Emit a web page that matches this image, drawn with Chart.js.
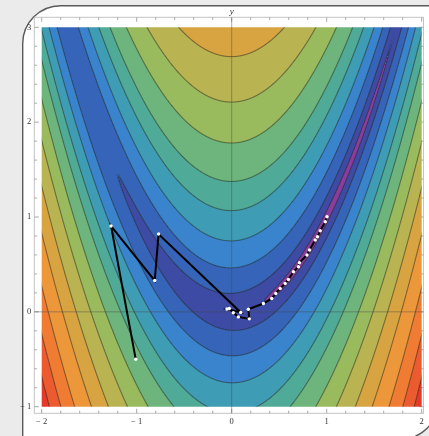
<!DOCTYPE html>
<html>
<head>
<meta charset="utf-8">
<script src="https://cdn.jsdelivr.net/npm/chart.js@4.4.1/dist/chart.umd.min.js"></script>
<style>
  html,body{margin:0;padding:0;background:#ebebeb;}
  canvas{display:block;}
</style>
</head>
<body>
<canvas id="c" width="429" height="436"></canvas>
<script>
// ---- data ----
const xRange = [-2, 2];
const yRange = [-1, 3];
// contour levels of the plotted field
const contourLevels = [0.42, 4.8, 22.5, 57, 115, 190, 318, 490, 725, 1015, 1400, 1800, 2200];
// fill colour of each band, lowest first
const bandColors = ['#8b3d9e','#3d4ba4','#3564b8','#3a84cd','#3e9cb4','#4fab97','#6db57c',
                    '#9aba5e','#b9b352','#d8a441','#ec973a','#f07c33','#ec5a2f','#e43a2a'];
// optimisation path
const pathX = [-1.01, -1.27, -0.81, -0.77, 0.095, -0.05, -0.025, 0.017, 0.07, 0.185, 0.175, 0.334,
               0.422, 0.464, 0.510, 0.563, 0.597, 0.650, 0.703, 0.713, 0.792, 0.819, 0.879, 0.903, 0.932, 0.985, 1.003];
const pathY = [-0.50, 0.905, 0.33, 0.82, -0.006, 0.03, 0.036, -0.01, -0.053, -0.074, 0.028, 0.088,
               0.141, 0.194, 0.247, 0.300, 0.342, 0.422, 0.475, 0.517, 0.599, 0.652, 0.757, 0.792, 0.855, 0.950, 1.003];
const xTickValues = [-2, -1, 0, 1, 2];
const xTickLabels = ['\u2212 2', '\u2212 1', '0', '1', '2'];
const yTickValues = [-1, 0, 1, 2, 3];
const yTickLabels = ['\u2212 1', '0', '1', '2', '3'];
const axisLabel = 'y';

// field shown by the contours (Rosenbrock function)
function field(x, y) { return (1 - x) * (1 - x) + 100 * (y - x * x) * (y - x * x); }

function hexToRgb(h) { return [parseInt(h.slice(1,3),16), parseInt(h.slice(3,5),16), parseInt(h.slice(5,7),16)]; }

const cbLevels = [0].concat(contourLevels.map(Math.cbrt));
function levelCoord(f) {
  const g = Math.cbrt(f);
  const n = cbLevels.length - 1;
  for (let j = 0; j < n; j++) {
    if (g < cbLevels[j + 1]) return j + (g - cbLevels[j]) / (cbLevels[j + 1] - cbLevels[j]);
  }
  return n + (g - cbLevels[n]) / (cbLevels[n] - cbLevels[n - 1]);
}

function frameBox(a) {
  return { l: a.left - 7.4, t: a.top - 10, r: a.right + 1.8, b: a.bottom + 6.6 };
}

const backgroundPlugin = {
  id: 'panel',
  beforeDraw(chart) {
    const ctx = chart.ctx, a = chart.chartArea;
    ctx.save();
    ctx.fillStyle = '#ebebeb';
    ctx.fillRect(0, 0, chart.width, chart.height);
    // rounded panel
    const L = 22.7, T = 5.7, R = 440, B = 440, r1 = 38, r2 = 42;
    ctx.beginPath();
    ctx.moveTo(L + r1, T);
    ctx.lineTo(R, T);
    ctx.lineTo(R, B - r2);
    ctx.arcTo(R, B, R - r2, B, r2);
    ctx.lineTo(L, B);
    ctx.lineTo(L, T + r1);
    ctx.arcTo(L, T, L + r1, T, r1);
    ctx.closePath();
    ctx.fillStyle = '#ffffff';
    ctx.fill();
    ctx.lineWidth = 1.4;
    ctx.strokeStyle = '#5a5a5a';
    ctx.stroke();

    // frame
    const xs = chart.scales.x, ys = chart.scales.y;
    const f = frameBox(a);
    ctx.strokeStyle = '#c4c4c4';
    ctx.lineWidth = 1;
    ctx.strokeRect(f.l, f.t, f.r - f.l, f.b - f.t);
    // ticks
    ctx.strokeStyle = '#a8a8a8';
    ctx.beginPath();
    for (let i = 0; i <= 20; i++) {
      const v = xRange[0] + i * 0.2;
      const px = xs.getPixelForValue(v);
      const len = (i % 5 === 0) ? 4.5 : 2.6;
      ctx.moveTo(px, f.b); ctx.lineTo(px, f.b - len);
      ctx.moveTo(px, f.t); ctx.lineTo(px, f.t + len);
      const vy = yRange[0] + i * 0.2;
      const py = ys.getPixelForValue(vy);
      ctx.moveTo(f.l, py); ctx.lineTo(f.l + len, py);
      ctx.moveTo(f.r, py); ctx.lineTo(f.r - len, py);
    }
    ctx.stroke();
    // tick labels
    ctx.fillStyle = '#333';
    ctx.font = '8.5px "Liberation Serif", "DejaVu Serif", serif';
    ctx.textAlign = 'center';
    ctx.textBaseline = 'middle';
    xTickValues.forEach((v, i) => ctx.fillText(xTickLabels[i], xs.getPixelForValue(v), f.b + 8));
    ctx.textAlign = 'right';
    yTickValues.forEach((v, i) => ctx.fillText(yTickLabels[i], f.l - 3, ys.getPixelForValue(v)));
    ctx.textAlign = 'center';
    ctx.font = 'italic 9px "Liberation Serif", "DejaVu Serif", serif';
    ctx.fillText(axisLabel, xs.getPixelForValue(0), f.t - 6);
    ctx.restore();
  }
};

const contourPlugin = {
  id: 'contours',
  beforeDatasetsDraw(chart) {
    const ctx = chart.ctx, a = chart.chartArea;
    const xs = chart.scales.x, ys = chart.scales.y;
    const L = Math.floor(a.left), T = Math.floor(a.top);
    const W = Math.ceil(a.right) - L, H = Math.ceil(a.bottom) - T;
    const GW = W + 2, GH = H + 2;
    const tg = new Float64Array(GW * GH);
    for (let j = 0; j < GH; j++) {
      const yv = ys.getValueForPixel(T + j - 0.5);
      for (let i = 0; i < GW; i++) {
        const xv = xs.getValueForPixel(L + i - 0.5);
        tg[j * GW + i] = levelCoord(field(xv, yv));
      }
    }
    const off = document.createElement('canvas');
    off.width = W; off.height = H;
    const octx = off.getContext('2d');
    const img = octx.createImageData(W, H);
    const cols = bandColors.map(hexToRgb);
    const nL = contourLevels.length;
    const lineRGB = [35, 35, 25];
    for (let j = 0; j < H; j++) {
      for (let i = 0; i < W; i++) {
        const gi = (j + 1) * GW + (i + 1);
        const t = tg[gi];
        const dx = (tg[gi + 1] - tg[gi - 1]) / 2;
        const dy = (tg[gi + GW] - tg[gi - GW]) / 2;
        const grad = Math.sqrt(dx * dx + dy * dy) + 1e-9;
        let band = Math.floor(t);
        if (band < 0) band = 0;
        if (band > nL) band = nL;
        const c = cols[band];
        let k = Math.round(t);
        let alpha = 0;
        if (k >= 1 && k <= nL) {
          const d = Math.abs(t - k) / grad;
          alpha = Math.max(0, Math.min(1, 1.05 - d)) * 0.5;
        }
        const p = (j * W + i) * 4;
        img.data[p] = c[0] * (1 - alpha) + lineRGB[0] * alpha;
        img.data[p + 1] = c[1] * (1 - alpha) + lineRGB[1] * alpha;
        img.data[p + 2] = c[2] * (1 - alpha) + lineRGB[2] * alpha;
        img.data[p + 3] = 255;
      }
    }
    octx.putImageData(img, 0, 0);
    ctx.save();
    ctx.beginPath();
    ctx.rect(a.left, a.top, a.right - a.left, a.bottom - a.top);
    ctx.clip();
    ctx.drawImage(off, L, T);
    ctx.restore();

    // axes through the origin
    const f = frameBox(a);
    ctx.save();
    ctx.strokeStyle = 'rgba(70,70,70,0.45)';
    ctx.lineWidth = 1;
    const x0 = xs.getPixelForValue(0), y0 = ys.getPixelForValue(0);
    ctx.beginPath();
    ctx.moveTo(x0, f.t); ctx.lineTo(x0, f.b);
    ctx.moveTo(f.l, y0); ctx.lineTo(f.r, y0);
    ctx.stroke();
    ctx.restore();
  }
};

const pts = pathX.map((x, i) => ({ x: x, y: pathY[i] }));

new Chart(document.getElementById('c'), {
  type: 'scatter',
  data: {
    datasets: [{
      data: pts,
      showLine: true,
      borderColor: '#000000',
      borderWidth: 2,
      pointRadius: 1.7,
      pointBackgroundColor: '#ffffff',
      pointBorderWidth: 0,
      tension: 0
    }]
  },
  options: {
    responsive: false,
    devicePixelRatio: 1,
    animation: false,
    layout: { padding: { left: 41.7, right: 7.3, top: 27.3, bottom: 29.3 } },
    plugins: { legend: { display: false }, tooltip: { enabled: false } },
    scales: {
      x: { type: 'linear', min: xRange[0], max: xRange[1], display: false },
      y: { type: 'linear', min: yRange[0], max: yRange[1], display: false }
    }
  },
  plugins: [backgroundPlugin, contourPlugin]
});
</script>
</body>
</html>
